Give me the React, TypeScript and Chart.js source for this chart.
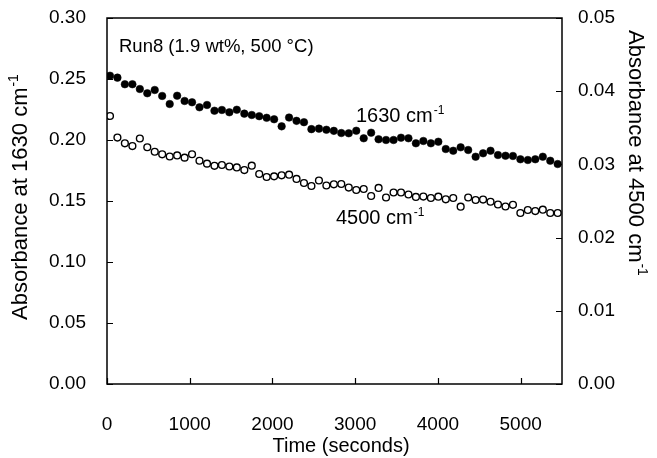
import React, { useEffect, useRef } from "react";
import { Chart, registerables } from "chart.js";

Chart.register(...registerables);

// Time of each spectrum (seconds)
const timeSeconds = [
  36, 126, 216, 307, 397, 487, 577, 667, 758, 848,
  938, 1028, 1118, 1209, 1299, 1389, 1479, 1569, 1660, 1750,
  1840, 1930, 2020, 2111, 2201, 2291, 2381, 2471, 2562, 2652,
  2742, 2832, 2922, 3013, 3103, 3193, 3283, 3373, 3464, 3554,
  3644, 3734, 3824, 3915, 4005, 4095, 4185, 4275, 4366, 4456,
  4546, 4636, 4726, 4817, 4907, 4997, 5087, 5177, 5268, 5358,
  5448,
];

// Absorbance at 1630 cm-1 (left axis, filled circles)
const abs1630 = [
  0.2527, 0.2511, 0.2457, 0.2457, 0.2418, 0.2383, 0.241, 0.2361, 0.2295, 0.2363,
  0.232, 0.2309, 0.2268, 0.2287, 0.224, 0.2246, 0.2227, 0.2248, 0.2216, 0.2205,
  0.2195, 0.2182, 0.217, 0.2112, 0.2184, 0.2157, 0.2146, 0.2089, 0.2093, 0.2084,
  0.2075, 0.2057, 0.2055, 0.2076, 0.2014, 0.206, 0.2006, 0.2, 0.2, 0.2019,
  0.2014, 0.1973, 0.1992, 0.1973, 0.1986, 0.1926, 0.1912, 0.194, 0.1918, 0.1863,
  0.1891, 0.1912, 0.1877, 0.1871, 0.1869, 0.1842, 0.1836, 0.1842, 0.1863, 0.183,
  0.1803,
];

// Absorbance at 4500 cm-1 (right axis, open circles)
const abs4500 = [
  0.03661, 0.03367, 0.03288, 0.03251, 0.03354, 0.03234, 0.03173, 0.03138, 0.03108, 0.03122,
  0.03092, 0.03139, 0.0305, 0.0301, 0.02981, 0.02992, 0.02971, 0.02958, 0.02923, 0.02982,
  0.02869, 0.02828, 0.02837, 0.02851, 0.02859, 0.02801, 0.02746, 0.02705, 0.0278, 0.02712,
  0.02728, 0.02732, 0.02684, 0.0265, 0.02664, 0.02568, 0.02678, 0.02548, 0.02616, 0.02616,
  0.02589, 0.02555, 0.02561, 0.02541, 0.02559, 0.02523, 0.02541, 0.02422, 0.02548, 0.02514,
  0.0252, 0.0249, 0.02452, 0.02425, 0.02448, 0.02336, 0.02377, 0.02363, 0.02381, 0.02336,
  0.02336,
];

const xTicks = [0, 1000, 2000, 3000, 4000, 5000];
const leftTicks = [0, 0.05, 0.1, 0.15, 0.2, 0.25, 0.3];
const rightTicks = [0, 0.01, 0.02, 0.03, 0.04, 0.05];

const xTitle = "Time (seconds)";
const leftTitle = "Absorbance at 1630 cm";
const rightTitle = "Absorbance at 4500 cm";
const supText = "-1";
const runLabel = "Run8 (1.9 wt%, 500 °C)";
const label1630 = "1630 cm";
const label4500 = "4500 cm";

const FONT = '"Liberation Sans", Arial, Helvetica, sans-serif';

function drawSup(
  ctx: CanvasRenderingContext2D,
  base: string,
  x: number,
  y: number,
  size: number,
  align: "left" | "center"
) {
  ctx.font = `${size}px ${FONT}`;
  const wb = ctx.measureText(base).width;
  const supSize = Math.round(size * 0.62);
  ctx.font = `${supSize}px ${FONT}`;
  const ws = ctx.measureText(supText).width;
  const total = wb + ws + 1;
  const x0 = align === "center" ? x - total / 2 : x;
  ctx.textAlign = "left";
  ctx.textBaseline = "alphabetic";
  ctx.font = `${size}px ${FONT}`;
  ctx.fillText(base, x0, y);
  ctx.font = `${supSize}px ${FONT}`;
  ctx.fillText(supText, x0 + wb + 1, y - size * 0.42);
}

const overlayPlugin = {
  id: "overlay",
  afterDraw(chart: any) {
    const { ctx, chartArea: a, scales } = chart;
    ctx.save();
    ctx.strokeStyle = "#000";
    ctx.fillStyle = "#000";
    ctx.lineWidth = 1.5;
    ctx.strokeRect(a.left, a.top, a.right - a.left, a.bottom - a.top);

    ctx.lineWidth = 1.2;
    const tl = 6;
    ctx.beginPath();
    xTicks.forEach((v) => {
      const px = Math.round(scales.x.getPixelForValue(v)) + 0.5;
      ctx.moveTo(px, a.bottom);
      ctx.lineTo(px, a.bottom - tl);
    });
    leftTicks.forEach((v) => {
      const py = Math.round(scales.y.getPixelForValue(v)) + 0.5;
      ctx.moveTo(a.left, py);
      ctx.lineTo(a.left + tl, py);
    });
    rightTicks.forEach((v) => {
      const py = Math.round(scales.y2.getPixelForValue(v)) + 0.5;
      ctx.moveTo(a.right, py);
      ctx.lineTo(a.right - tl, py);
    });
    ctx.stroke();

    // x title
    ctx.font = `20px ${FONT}`;
    ctx.textAlign = "center";
    ctx.textBaseline = "alphabetic";
    ctx.fillText(xTitle, 341, 452);

    // left title
    ctx.save();
    ctx.translate(27, 197);
    ctx.rotate(-Math.PI / 2);
    drawSup(ctx, leftTitle, 0, 0, 22, "center");
    ctx.restore();

    // right title
    ctx.save();
    ctx.translate(629, 153);
    ctx.rotate(Math.PI / 2);
    drawSup(ctx, rightTitle, 0, 0, 22, "center");
    ctx.restore();

    // annotations
    ctx.font = `18.5px ${FONT}`;
    ctx.textAlign = "left";
    ctx.fillText(runLabel, 119, 52);
    drawSup(ctx, label1630, 356, 122, 20, "left");
    drawSup(ctx, label4500, 336, 224, 20, "left");
    ctx.restore();
  },
};

export default function App() {
  const ref = useRef<HTMLCanvasElement | null>(null);

  useEffect(() => {
    if (!ref.current) return;
    const fixed = (v: number) => Number(v).toFixed(2);
    const setTicks = (arr: number[]) => (s: any) => {
      s.ticks = arr.map((v) => ({ value: v }));
    };
    const chart = new Chart(ref.current, {
      type: "scatter",
      data: {
        datasets: [
          {
            label: "1630 cm-1",
            data: timeSeconds.map((t, i) => ({ x: t, y: abs1630[i] })),
            yAxisID: "y",
            pointRadius: 3.8,
            pointBackgroundColor: "#000",
            pointBorderColor: "#000",
            pointBorderWidth: 0.5,
            showLine: false,
          },
          {
            label: "4500 cm-1",
            data: timeSeconds.map((t, i) => ({ x: t, y: abs4500[i] })),
            yAxisID: "y2",
            pointRadius: 3.4,
            pointBackgroundColor: "#fff",
            pointBorderColor: "#000",
            pointBorderWidth: 1.4,
            showLine: false,
          },
        ],
      },
      options: {
        responsive: false,
        animation: false,
        devicePixelRatio: 1,
        layout: { padding: { left: 0, right: 0, top: 18, bottom: 0 } },
        plugins: {
          legend: { display: false },
          tooltip: { enabled: false },
        },
        scales: {
          x: {
            type: "linear",
            min: 0,
            max: 5500,
            grid: { display: false, drawTicks: false },
            border: { display: false },
            afterBuildTicks: setTicks(xTicks),
            ticks: {
              autoSkip: false,
              padding: 29,
              color: "#000",
              font: { family: FONT, size: 19 },
              maxRotation: 0,
              minRotation: 0,
              callback: (v: any) => String(v),
            },
            afterFit: (s: any) => {
              s.height = 74;
              s.paddingLeft = 0;
              s.paddingRight = 0;
            },
          },
          y: {
            type: "linear",
            position: "left",
            min: 0,
            max: 0.3,
            grid: { display: false, drawTicks: false },
            border: { display: false },
            afterBuildTicks: setTicks(leftTicks),
            ticks: {
              autoSkip: false,
              padding: 21,
              color: "#000",
              font: { family: FONT, size: 19 },
              callback: (v: any) => fixed(v),
            },
            afterFit: (s: any) => {
              s.width = 107;
              s.paddingTop = 0;
              s.paddingBottom = 0;
            },
          },
          y2: {
            type: "linear",
            position: "right",
            min: 0,
            max: 0.05,
            grid: { display: false, drawTicks: false },
            border: { display: false },
            afterBuildTicks: setTicks(rightTicks),
            ticks: {
              autoSkip: false,
              padding: 16,
              color: "#000",
              font: { family: FONT, size: 19 },
              callback: (v: any) => fixed(v),
            },
            afterFit: (s: any) => {
              s.width = 95;
              s.paddingTop = 0;
              s.paddingBottom = 0;
            },
          },
        },
      },
      plugins: [overlayPlugin],
    });
    return () => chart.destroy();
  }, []);

  return (
    <div style={{ position: "absolute", left: 0, top: 0, width: 657, height: 458, background: "#fff" }}>
      <canvas ref={ref} width={657} height={458} style={{ display: "block" }} />
    </div>
  );
}
